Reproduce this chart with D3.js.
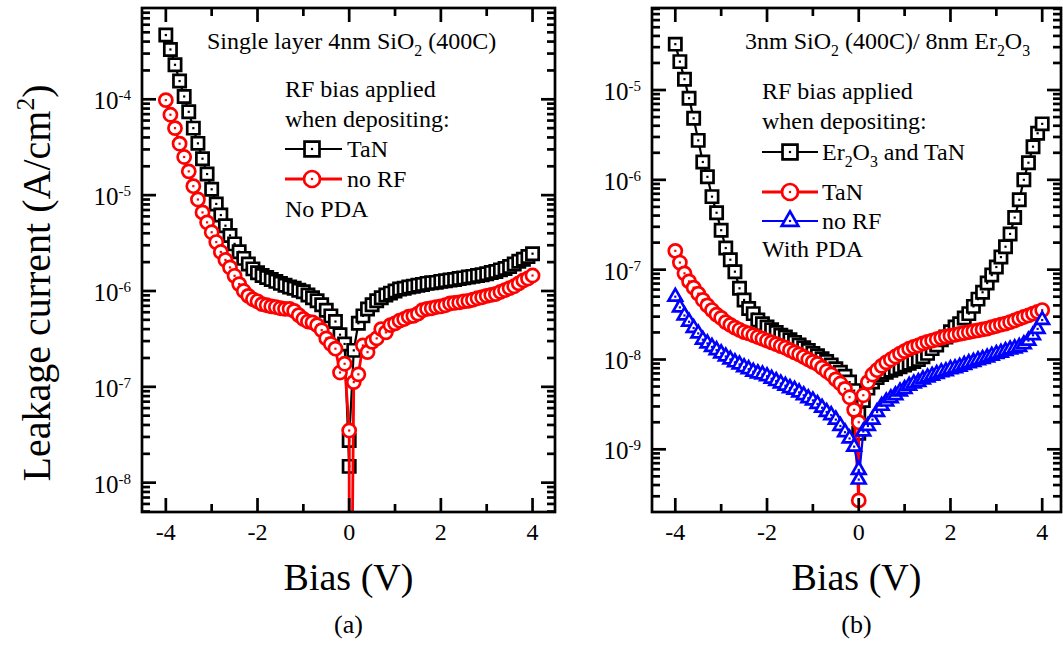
<!DOCTYPE html>
<html>
<head>
<meta charset="utf-8">
<script src="https://cdn.jsdelivr.net/npm/d3@7"></script>
<style>
body { margin: 0; background: #fff; }
svg { display: block; }
text { font-family: "Liberation Serif", "Times New Roman", serif; fill: #000; }
</style>
</head>
<body>
<svg id="fig" width="1063" height="646"></svg>
<script>
// bias sweep: -4 -> 0 then 0 -> 4 (0 V appears twice)
const bias = [-4.0,-3.9,-3.8,-3.7,-3.6,-3.5,-3.4,-3.3,-3.2,-3.1,-3.0,-2.9,-2.8,-2.7,-2.6,-2.5,-2.4,-2.3,-2.2,-2.1,
	-2.0,-1.9,-1.8,-1.7,-1.6,-1.5,-1.4,-1.3,-1.2,-1.1,-1.0,-0.9,-0.8,-0.7,-0.6,-0.5,-0.4,-0.3,-0.2,-0.1,
	0, 0,
	0.1,0.2,0.3,0.4,0.5,0.6,0.7,0.8,0.9,1.0,1.1,1.2,1.3,1.4,1.5,1.6,1.7,1.8,1.9,2.0,
	2.1,2.2,2.3,2.4,2.5,2.6,2.7,2.8,2.9,3.0,3.1,3.2,3.3,3.4,3.5,3.6,3.7,3.8,3.9,4.0];

// (a) single layer 4nm SiO2, no PDA  (A/cm2)
const tanNoPda = [4.68e-4,3.31e-4,2.29e-4,1.55e-4,1.07e-4,7.4e-5,5.0e-5,3.47e-5,2.4e-5,1.66e-5,
	1.15e-5,8.1e-6,6.2e-6,4.8e-6,3.8e-6,3.1e-6,2.57e-6,2.19e-6,1.91e-6,1.70e-6,
	1.55e-6,1.45e-6,1.38e-6,1.32e-6,1.26e-6,1.20e-6,1.15e-6,1.10e-6,1.07e-6,1.02e-6,
	9.8e-7,9.1e-7,8.5e-7,7.9e-7,7.2e-7,6.3e-7,5.5e-7,4.8e-7,3.5e-7,2.8e-7,
	1.48e-8,2.75e-8,
	2.4e-7,4.6e-7,5.5e-7,6.5e-7,7.2e-7,7.9e-7,8.5e-7,9.1e-7,9.5e-7,1.0e-6,
	1.05e-6,1.07e-6,1.10e-6,1.12e-6,1.15e-6,1.17e-6,1.20e-6,1.22e-6,1.23e-6,1.26e-6,
	1.28e-6,1.30e-6,1.32e-6,1.35e-6,1.37e-6,1.40e-6,1.42e-6,1.45e-6,1.48e-6,1.51e-6,
	1.56e-6,1.60e-6,1.66e-6,1.72e-6,1.80e-6,1.91e-6,2.04e-6,2.14e-6,2.29e-6,2.45e-6];

const noRfNoPda = [9.8e-5,6.9e-5,5.0e-5,3.44e-5,2.5e-5,1.77e-5,1.24e-5,9.0e-6,6.6e-6,5.2e-6,
	4.1e-6,3.24e-6,2.55e-6,2.11e-6,1.76e-6,1.44e-6,1.18e-6,1.0e-6,8.9e-7,8.2e-7,
	7.8e-7,7.3e-7,7.1e-7,6.9e-7,6.8e-7,6.6e-7,6.5e-7,6.5e-7,6.2e-7,5.6e-7,
	5.1e-7,4.8e-7,4.7e-7,4.4e-7,3.9e-7,3.2e-7,2.8e-7,2.5e-7,1.41e-7,1.74e-7,
	3.5e-8,1e-12,
	1.12e-7,1.35e-7,2.7e-7,2.3e-7,2.95e-7,3.2e-7,4.0e-7,3.7e-7,4.4e-7,4.6e-7,
	4.9e-7,5.1e-7,5.4e-7,5.5e-7,5.8e-7,6.3e-7,6.5e-7,6.6e-7,6.8e-7,6.9e-7,
	7.1e-7,7.4e-7,7.5e-7,7.6e-7,7.8e-7,7.9e-7,8.1e-7,8.4e-7,8.6e-7,8.9e-7,
	9.1e-7,9.3e-7,9.8e-7,1.02e-6,1.07e-6,1.12e-6,1.20e-6,1.29e-6,1.35e-6,1.45e-6];

// (b) 3nm SiO2 / 8nm Er2O3, with PDA  (A/cm2)
const erTanPda = [3.24e-5,2.07e-5,1.32e-5,8.1e-6,4.84e-6,2.75e-6,1.58e-6,1.08e-6,6.5e-7,4.3e-7,
	2.75e-7,1.74e-7,1.29e-7,9.5e-8,6.2e-8,4.6e-8,3.7e-8,3.24e-8,2.75e-8,2.5e-8,
	2.3e-8,2.14e-8,2.0e-8,1.86e-8,1.78e-8,1.66e-8,1.55e-8,1.45e-8,1.35e-8,1.26e-8,
	1.17e-8,1.10e-8,1.02e-8,9.5e-9,8.7e-9,7.9e-9,7.2e-9,6.5e-9,5.6e-9,4.5e-9,
	1.51e-9,2.5e-9,
	3.5e-9,4.8e-9,5.6e-9,6.3e-9,6.8e-9,7.2e-9,7.6e-9,7.9e-9,8.3e-9,8.7e-9,
	9.1e-9,9.5e-9,1.0e-8,1.07e-8,1.17e-8,1.32e-8,1.45e-8,1.66e-8,1.78e-8,2.04e-8,
	2.3e-8,2.5e-8,2.9e-8,3.24e-8,3.9e-8,4.7e-8,5.6e-8,7.1e-8,8.7e-8,1.07e-7,
	1.38e-7,1.80e-7,2.5e-7,3.8e-7,6.0e-7,1.0e-6,1.55e-6,2.34e-6,3.3e-6,4.2e-6];

const tanPda = [1.62e-7,1.20e-7,9.1e-8,7.4e-8,6.3e-8,5.4e-8,4.6e-8,4.0e-8,3.55e-8,3.16e-8,
	2.9e-8,2.6e-8,2.43e-8,2.26e-8,2.14e-8,2.02e-8,1.95e-8,1.86e-8,1.78e-8,1.70e-8,
	1.62e-8,1.55e-8,1.48e-8,1.41e-8,1.35e-8,1.27e-8,1.20e-8,1.14e-8,1.07e-8,1.0e-8,
	9.4e-9,8.9e-9,8.1e-9,7.4e-9,6.8e-9,6.0e-9,5.4e-9,4.7e-9,3.8e-9,2.75e-9,
	2.7e-10,2.0e-9,
	4.0e-9,5.6e-9,6.8e-9,7.6e-9,8.5e-9,9.3e-9,1.0e-8,1.08e-8,1.16e-8,1.24e-8,
	1.32e-8,1.38e-8,1.43e-8,1.51e-8,1.57e-8,1.62e-8,1.68e-8,1.74e-8,1.80e-8,1.84e-8,
	1.88e-8,1.93e-8,1.97e-8,2.02e-8,2.07e-8,2.11e-8,2.16e-8,2.21e-8,2.29e-8,2.36e-8,
	2.44e-8,2.51e-8,2.61e-8,2.72e-8,2.85e-8,2.97e-8,3.09e-8,3.24e-8,3.39e-8,3.55e-8];

const noRfPda = [5.0e-8,3.8e-8,3.09e-8,2.63e-8,2.24e-8,1.95e-8,1.66e-8,1.51e-8,1.38e-8,1.27e-8,
	1.17e-8,1.08e-8,1.0e-8,9.3e-9,8.8e-9,8.2e-9,7.8e-9,7.3e-9,7.0e-9,6.8e-9,
	6.5e-9,6.1e-9,5.75e-9,5.4e-9,5.1e-9,4.8e-9,4.6e-9,4.3e-9,4.0e-9,3.7e-9,
	3.5e-9,3.2e-9,2.9e-9,2.6e-9,2.4e-9,2.14e-9,1.82e-9,1.55e-9,1.32e-9,1.07e-9,
	5.9e-10,4.6e-10,
	1.58e-9,1.82e-9,2.14e-9,2.6e-9,3.05e-9,3.4e-9,3.7e-9,4.0e-9,4.4e-9,4.7e-9,
	5.1e-9,5.4e-9,5.6e-9,6.0e-9,6.3e-9,6.6e-9,6.9e-9,7.2e-9,7.4e-9,7.8e-9,
	8.0e-9,8.3e-9,8.7e-9,9.1e-9,9.4e-9,9.8e-9,1.01e-8,1.05e-8,1.10e-8,1.15e-8,
	1.19e-8,1.24e-8,1.29e-8,1.33e-8,1.38e-8,1.48e-8,1.62e-8,1.86e-8,2.19e-8,2.75e-8];

const xMajor = [-4, -2, 0, 2, 4];
const xMinor = [-3, -1, 1, 3];
const yMajorA = [-8, -7, -6, -5, -4];
const yMajorB = [-9, -8, -7, -6, -5];

const svg = d3.select('#fig');

const panels = [
	{
		id: 'a', box: {left: 142, right: 555, top: 8, bottom: 512},
		xDomain: [-4.52, 4.49], yDomain: [Math.pow(10, -8.306), Math.pow(10, -3.0475)],
		yMajor: yMajorA,
		series: [
			{label: [{t: 'TaN'}], values: tanNoPda, color: '#000', shape: 'square', width: 2.2, lineY: 149},
			{label: [{t: 'no RF'}], values: noRfNoPda, color: '#f00', shape: 'circle', width: 2.8, lineY: 179}
		],
		legend: {x: 285, lineEnd: 342, symX: 312, textX: 347},
		title: {x: 207, y: 49, parts: [{t: 'Single layer 4nm SiO'}, {t: '2', sub: true}, {t: ' (400C)'}]},
		notes: [{x: 285, y: 97, t: 'RF bias applied'}, {x: 285, y: 127, t: 'when depositing:'}, {x: 285, y: 217, t: 'No PDA'}],
		tag: '(a)'
	},
	{
		id: 'b', box: {left: 652, right: 1061, top: 8, bottom: 512},
		xDomain: [-4.508, 4.41], yDomain: [Math.pow(10, -9.698), Math.pow(10, -4.087)],
		yMajor: yMajorB,
		series: [
			{label: [{t: 'Er'}, {t: '2', sub: true}, {t: 'O'}, {t: '3', sub: true}, {t: ' and TaN'}], values: erTanPda, color: '#000', shape: 'square', width: 2.2, lineY: 152},
			{label: [{t: 'TaN'}], values: tanPda, color: '#f00', shape: 'circle', width: 2.8, lineY: 192},
			{label: [{t: 'no RF'}], values: noRfPda, color: '#00f', shape: 'triangle', width: 2.2, lineY: 221}
		],
		legend: {x: 762, lineEnd: 818, symX: 790, textX: 822},
		title: {x: 745, y: 49, parts: [{t: '3nm SiO'}, {t: '2', sub: true}, {t: ' (400C)/ 8nm Er'}, {t: '2', sub: true}, {t: 'O'}, {t: '3', sub: true}]},
		notes: [{x: 762, y: 99, t: 'RF bias applied'}, {x: 762, y: 128.5, t: 'when depositing:'}, {x: 762, y: 257, t: 'With PDA'}],
		tag: '(b)'
	}
];

function rich(sel, parts, size) {
	let shifted = false;
	parts.forEach(p => {
		const ts = sel.append('tspan').text(p.t);
		if (p.sub) {
			ts.attr('font-size', size * 0.66).attr('dy', shifted ? 0 : 7);
			shifted = true;
		} else if (p.sup) {
			ts.attr('font-size', size * 0.64).attr('dy', -size * 0.4);
			shifted = 'up';
		} else {
			if (shifted === true) ts.attr('dy', -7);
			if (shifted === 'up') ts.attr('dy', size * 0.4);
			shifted = false;
		}
	});
	return sel;
}

function marker(shape, big) {
	const s = big ? 1.22 : 1;
	if (shape === 'square') return d3.symbol().type(d3.symbolSquare).size(150 * s * s)();
	if (shape === 'circle') return d3.symbol().type(d3.symbolCircle).size(135 * s * s)();
	return d3.symbol().type(d3.symbolTriangle).size(80 * s * s)();
}

function draw_panel(p) {
	const b = p.box;
	const x = d3.scaleLinear().domain(p.xDomain).range([b.left, b.right]);
	const y = d3.scaleLog().domain(p.yDomain).range([b.bottom, b.top]);
	const g = svg.append('g').attr('id', 'panel-' + p.id);

	g.append('clipPath').attr('id', 'clip-' + p.id)
		.append('rect').attr('x', b.left).attr('y', b.top)
		.attr('width', b.right - b.left).attr('height', b.bottom - b.top);

	// data: line first, then white-filled symbols with a centre dot
	const plot = g.append('g').attr('clip-path', 'url(#clip-' + p.id + ')');
	const line = d3.line().x(d => x(d[0])).y(d => y(d[1]));
	p.series.forEach(s => {
		const pts = d3.zip(bias, s.values);
		plot.append('path').datum(pts)
			.attr('d', line).attr('fill', 'none')
			.attr('stroke', s.color).attr('stroke-width', s.width)
			.attr('stroke-linejoin', 'round');
		const m = plot.append('g').selectAll('g').data(pts).enter().append('g')
			.attr('transform', d => `translate(${x(d[0])},${y(d[1])})`);
		m.append('path').attr('d', marker(s.shape))
			.attr('fill', '#fff').attr('stroke', s.color).attr('stroke-width', 2.7);
		m.append('rect').attr('x', -1.1).attr('y', -1.1).attr('width', 2.2).attr('height', 2.2)
			.attr('fill', s.color);
	});

	// frame and ticks
	const ax = g.append('g').attr('stroke', '#000').attr('stroke-width', 2.7);
	ax.append('rect').attr('x', b.left).attr('y', b.top)
		.attr('width', b.right - b.left).attr('height', b.bottom - b.top).attr('fill', 'none');

	const xt = xMajor.map(v => ({v, len: 14})).concat(xMinor.map(v => ({v, len: 8})));
	ax.selectAll('.xb').data(xt).enter().append('line')
		.attr('x1', d => x(d.v)).attr('x2', d => x(d.v))
		.attr('y1', b.bottom).attr('y2', d => b.bottom - d.len);
	ax.selectAll('.xt').data(xt).enter().append('line')
		.attr('x1', d => x(d.v)).attr('x2', d => x(d.v))
		.attr('y1', b.top).attr('y2', d => b.top + d.len);

	const yt = [];
	const lo = Math.floor(Math.log10(p.yDomain[0])), hi = Math.ceil(Math.log10(p.yDomain[1]));
	for (let e = lo; e <= hi; e++) {
		for (let k = 1; k <= 9; k++) {
			const v = k * Math.pow(10, e);
			if (v >= p.yDomain[0] && v <= p.yDomain[1]) yt.push({v, len: k === 1 ? 14 : 8});
		}
	}
	ax.selectAll('.yl').data(yt).enter().append('line')
		.attr('y1', d => y(d.v)).attr('y2', d => y(d.v))
		.attr('x1', b.left).attr('x2', d => b.left + d.len);
	ax.selectAll('.yr').data(yt).enter().append('line')
		.attr('y1', d => y(d.v)).attr('y2', d => y(d.v))
		.attr('x1', b.right).attr('x2', d => b.right - d.len);

	// tick labels
	g.selectAll('.xlab').data(xMajor).enter().append('text')
		.attr('x', d => x(d)).attr('y', b.bottom + 28)
		.attr('text-anchor', 'middle').attr('font-size', 24)
		.text(d => d);
	g.selectAll('.ylab').data(p.yMajor).enter().append('text')
		.attr('x', b.left - 11).attr('y', d => y(Math.pow(10, d)) + 10)
		.attr('text-anchor', 'end').attr('font-size', 25)
		.each(function(d) {
			const t = d3.select(this);
			t.append('tspan').text('10');
			t.append('tspan').attr('font-size', 15).attr('dy', -9).text(d);
		});

	// axis title and panel tag
	const cx = (b.left + b.right) / 2;
	g.append('text').attr('x', cx).attr('y', 590).attr('text-anchor', 'middle')
		.attr('font-size', 38).text('Bias (V)');
	g.append('text').attr('x', cx).attr('y', 633).attr('text-anchor', 'middle')
		.attr('font-size', 26).text(p.tag);

	// annotations
	rich(g.append('text').attr('x', p.title.x).attr('y', p.title.y).attr('font-size', 24), p.title.parts, 24);
	p.notes.forEach(n => {
		g.append('text').attr('x', n.x).attr('y', n.y).attr('font-size', 24).text(n.t);
	});

	// legend
	const L = p.legend;
	p.series.forEach(s => {
		g.append('line').attr('x1', L.x).attr('x2', L.lineEnd)
			.attr('y1', s.lineY).attr('y2', s.lineY)
			.attr('stroke', s.color).attr('stroke-width', s.width);
		g.append('path').attr('d', marker(s.shape, true))
			.attr('transform', `translate(${L.symX},${s.lineY})`)
			.attr('fill', '#fff').attr('stroke', s.color).attr('stroke-width', 2.7);
		g.append('rect').attr('x', L.symX - 1.1).attr('y', s.lineY - 1.1)
			.attr('width', 2.2).attr('height', 2.2).attr('fill', s.color);
		rich(g.append('text').attr('x', L.textX).attr('y', s.lineY + 7.5).attr('font-size', 24), s.label, 24);
	});
}

panels.forEach(draw_panel);

// y axis title (left panel only)
const yTitle = svg.append('text')
	.attr('transform', 'translate(50,283) rotate(-90)')
	.attr('text-anchor', 'middle').attr('font-size', 40);
rich(yTitle, [{t: 'Leakage current (A/cm'}, {t: '2', sup: true}, {t: ')'}], 40);
</script>
</body>
</html>
